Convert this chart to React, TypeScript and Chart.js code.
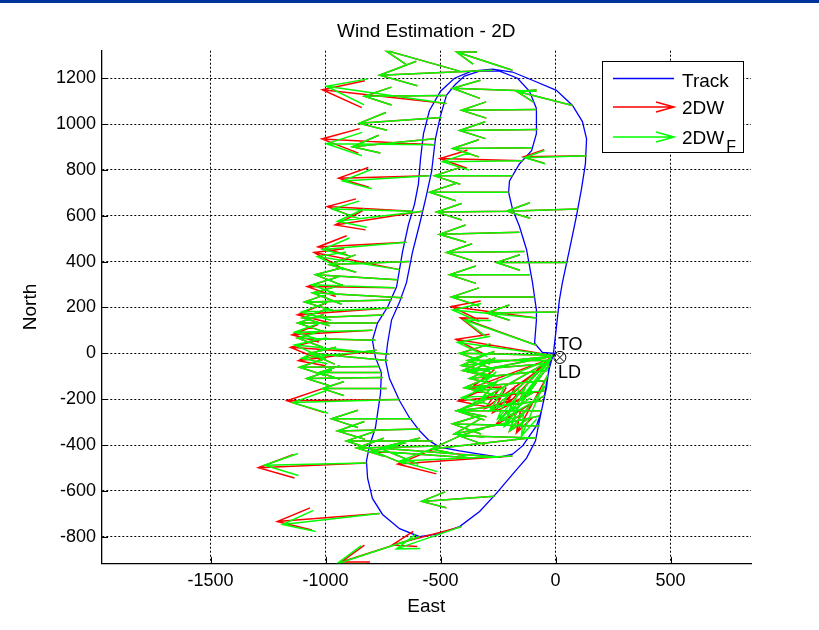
import React, { useEffect, useRef } from "react";
import { Chart, registerables } from "chart.js";

Chart.register(...registerables);

const FONT = '"Liberation Sans", Arial, Helvetica, sans-serif';

// Axis limits
const xMin = -1974;
const xMax = 850;
const yMin = -916;
const yMax = 1320;

// Tick values
const xTickValues = [-1500, -1000, -500, 0, 500];
const yTickValues = [-800, -600, -400, -200, 0, 200, 400, 600, 800, 1000, 1200];

// Flight track (East, North)
const trackE = [0,-30,-57,-91,-83,-83,-100,-126,-157,-187, -204,-200,-157,-104,-83,-83,-113,-165,-243,-330, -396,-439,-474,-500,-522,-539,-565,-591,-622,-648, -678,-713,-730,-739,-722,-678,-635,-591,-548,-504, -417,-330,-243,-187,-143,-113,-83,-61,-39,-26, -9,4,17,30,61,91,113,130,135,117, 74,4,-100,-187,-274,-365,-439,-500,-548,-574, -587,-596,-613,-639,-665,-691,-730,-774,-796,-783, -757,-761,-783,-809,-822,-817,-796,-752,-678,-591, -504,-417,-330,-257,-187,-126,-87,-70,-52,-39, -26,-13,0];
const trackN = [0,2,4,44,145,189,308,453,554,629, 703,752,826,884,958,1068,1143,1200,1231,1231, 1209,1169,1125,1037,936,791,673,563,440,308, 224,145,44,-31,-110,-207,-281,-338,-382,-409, -426,-440,-453,-440,-404,-360,-317,-251,-149,-44, 0,114,233,308,453,598,717,826,936,1011, 1081,1147,1191,1227,1240,1231,1200,1143,1059,958, 848,739,651,563,444,290,202,132,57,-18, -84,-176,-325,-404,-470,-545,-633,-703,-765,-800, -787,-756,-690,-611,-528,-457,-382,-295,-207,-130, -62,-15,0];

// Arrow bases (East, North)
const arrowE = [-417,-274,-187,-474,-474,-83,74,-83,-496,-78, -526,-526,-104,-143,135,-548,-187,-204,-622,-578, -187,96,-157,-648,-678,-135,52,-700,-665,-113, -91,-722,-83,4,-778,-796,-83,-722,-730,-765, -752,-735,-678,-626,-591,-535,-504,-361,-822,-265, -765,-409,-591,-243,-187,-113,-13,-13,-26,-26, -35,-39,-48,-57,-70,-13,-17,-26,-35,-43, -48,-70,-83,-61,-13,-13,-17,-22,-26,-30, -635,-687,-713,-748,-783,-778,-757];
const arrowN = [1231,1235,1235,1090,1125,1143,1081,1064,1029,976, 910,936,897,840,862,774,774,703,620,620, 620,629,528,484,365,444,396,286,242,343, 246,198,154,180,132,101,35,-4,-31,-57, -106,-154,-202,-286,-330,-382,-404,-457,-479,-624, -699,-756,-800,-453,-448,-369,-9,-9,-31,-44, -75,-119,-163,-207,-273,-9,-22,-53,-97,-141, -185,-317,-369,-251,-13,-13,-22,-31,-40,-53, 400,321,233,167,57,13,-84];

// 2DW (raw wind estimate) vector components
const windE = [-326,-491,-243,-540,-357,-365,-243,-326,-357,-339, -490,-357,-343,-360,-275,-395,-339,-343,-370,-380, -330,-309,-348,-385,-372,-339,-309,-380,-391,-348, -361,-400,-370,-304,-343,-350,-330,-430,-339,-348, -330,-278,-490,-348,-357,-374,-361,-435,-470,-317, -445,-300,-340,-522,-500,-426,-420,-404,-357,-378, -339,-357,-375,-370,-370,-260,-200,-130,-135,-157, -215,-378,-335,-370,-396,-361,-350,-309,-280,-191, -348,-357,-378,-352,-339,-340,-270];
const windN = [92,-22,79,60,-4,13,62,-4,-26,-4, 25,-35,-4,10,-5,-10,0,0,20,-60, -4,-9,-9,-20,75,-4,0,5,22,0, 0,-30,50,-4,0,-20,120,30,31,-4, -4,0,-5,0,-9,0,-9,31,-20,-22, -35,-80,-110,40,-35,-48,70,9,0,-31, -35,-31,-45,-44,-79,-250,-210,-154,-250,-198, -130,9,9,0,-40,-70,-130,-176,-200,-264, -13,22,-9,-13,9,-45,0];

// 2DW_F (filtered wind estimate) vector components
const windFE = [-326,-491,-243,-522,-357,-365,-243,-326,-357,-339, -470,-357,-343,-348,-270,-378,-339,-343,-348,-370, -330,-309,-348,-365,-357,-339,-309,-361,-391,-348, -361,-383,-365,-304,-343,-339,-313,-413,-339,-348, -330,-278,-465,-348,-357,-374,-361,-435,-443,-317, -422,-283,-361,-522,-491,-426,-413,-404,-357,-378, -339,-357,-361,-370,-370,-239,-174,-130,-113,-157, -196,-378,-335,-370,-396,-361,-335,-309,-261,-191, -348,-357,-378,-352,-339,-326,-270];
const windFN = [92,-22,79,75,-4,13,62,-4,-26,-4, 4,-35,-4,-4,-9,-22,0,0,9,-44, -4,-9,-9,-31,57,-4,0,13,22,0, 0,-18,35,-4,0,-9,110,40,31,-4, -4,0,-13,0,-9,0,-9,31,-9,-22, -48,-97,-119,40,-22,-48,57,9,0,-31, -35,-31,-31,-44,-79,-277,-229,-154,-264,-198, -110,9,9,0,-40,-70,-141,-176,-211,-264, -13,22,-9,-13,9,-35,0];

// TO / LD marker
const markerE = [19];
const markerN = [-18];

function quiverPoints(xs: number[], ys: number[], us: number[], vs: number[]) {
  const pts: { x: number; y: number | null }[] = [];
  const a = 0.33;
  const b = 0.33;
  for (let i = 0; i < xs.length; i++) {
    const x = xs[i], y = ys[i], u = us[i], v = vs[i];
    const tx = x + u, ty = y + v;
    pts.push({ x, y }, { x: tx, y: ty }, { x: tx, y: null });
    pts.push(
      { x: tx - a * (u + b * v), y: ty - a * (v - b * u) },
      { x: tx, y: ty },
      { x: tx - a * (u - b * v), y: ty - a * (v + b * u) },
      { x: tx, y: null }
    );
  }
  return pts;
}

const extrasPlugin = {
  id: "extras",
  afterDraw(chart: any) {
    const { ctx, chartArea: a, scales } = chart;
    const xs = scales.x, ys = scales.y;
    ctx.save();
    // Title
    ctx.fillStyle = "#000";
    ctx.font = `19px ${FONT}`;
    ctx.textAlign = "center";
    ctx.textBaseline = "alphabetic";
    ctx.fillText("Wind Estimation - 2D", (a.left + a.right) / 2, 36.5);

    // inward tick marks
    ctx.strokeStyle = "#000";
    ctx.lineWidth = 1;
    ctx.beginPath();
    xTickValues.forEach((v) => {
      const px = Math.round(xs.getPixelForValue(v)) + 0.5;
      ctx.moveTo(px, a.bottom);
      ctx.lineTo(px, a.bottom - 6.5);
    });
    yTickValues.forEach((v) => {
      const py = Math.round(ys.getPixelForValue(v)) + 0.5;
      ctx.moveTo(a.left, py);
      ctx.lineTo(a.left + 6.5, py);
    });
    ctx.stroke();

    // TO / LD labels
    const mx = xs.getPixelForValue(markerE[0]);
    const my = ys.getPixelForValue(markerN[0]);
    ctx.font = `18px ${FONT}`;
    ctx.textAlign = "left";
    ctx.fillText("TO", mx - 2, my - 7.5);
    ctx.fillText("LD", mx - 2, my + 20.5);

    // Legend
    const lx = 602, ly = 61, lw = 141, lh = 91;
    ctx.fillStyle = "#fff";
    ctx.fillRect(lx, ly, lw, lh);
    ctx.strokeStyle = "#000";
    ctx.lineWidth = 1;
    ctx.strokeRect(lx + 0.5, ly + 0.5, lw, lh);

    const x0 = 613, x1 = 674;
    ctx.strokeStyle = "#0000ff";
    ctx.lineWidth = 1.3;
    ctx.beginPath();
    ctx.moveTo(x0, 78.5);
    ctx.lineTo(x1, 78.5);
    ctx.stroke();

    const arrow = (yy: number, col: string) => {
      ctx.strokeStyle = col;
      ctx.lineWidth = 1.5;
      ctx.beginPath();
      ctx.moveTo(x0, yy);
      ctx.lineTo(x1, yy);
      ctx.moveTo(x1 - 18, yy - 5);
      ctx.lineTo(x1, yy);
      ctx.lineTo(x1 - 18, yy + 5);
      ctx.stroke();
    };
    arrow(107, "#ff0000");
    arrow(137, "#00ff00");

    ctx.fillStyle = "#000";
    ctx.font = `19px ${FONT}`;
    ctx.textAlign = "left";
    ctx.fillText("Track", 682, 86.5);
    ctx.fillText("2DW", 682, 114.3);
    ctx.fillText("2DW", 682, 144.3);
    const w = ctx.measureText("2DW").width;
    ctx.font = `16px ${FONT}`;
    ctx.fillText("F", 682 + w + 2, 151.5);
    ctx.restore();
  },
};

export default function App() {
  const ref = useRef<HTMLCanvasElement | null>(null);
  useEffect(() => {
    if (!ref.current) return;
    const track = trackE.map((e, i) => ({ x: e, y: trackN[i] }));
    const marker = markerE.map((e, i) => ({ x: e, y: markerN[i] }));
    const tickFont = { family: FONT, size: 18, weight: "normal" as const };
    const titleFont = { family: FONT, size: 19, weight: "normal" as const };
    const chart = new Chart(ref.current, {
      type: "scatter",
      data: {
        datasets: [
          { label: "Track", data: track, showLine: true, borderColor: "#0000ff", backgroundColor: "#0000ff", borderWidth: 1.3, pointRadius: 0, tension: 0, order: 3 },
          { label: "2DW", data: quiverPoints(arrowE, arrowN, windE, windN) as any, showLine: true, borderColor: "#ff0000", backgroundColor: "#ff0000", borderWidth: 1.5, pointRadius: 0, tension: 0, order: 2 },
          { label: "2DW_F", data: quiverPoints(arrowE, arrowN, windFE, windFN) as any, showLine: true, borderColor: "#00ff00", backgroundColor: "#00ff00", borderWidth: 1.5, pointRadius: 0, tension: 0, order: 1 },
          { label: "TO", data: marker, pointStyle: "circle", pointRadius: 6, borderColor: "#000", backgroundColor: "rgba(0,0,0,0)", borderWidth: 1, order: 0 },
          { label: "LD", data: marker, pointStyle: "crossRot", pointRadius: 6, borderColor: "#000", backgroundColor: "rgba(0,0,0,0)", borderWidth: 1, order: 0 },
        ],
      },
      options: {
        responsive: false,
        animation: false,
        events: [],
        layout: { padding: { left: 0, right: 68, top: 50.7, bottom: 0 } },
        plugins: {
          legend: { display: false },
          tooltip: { enabled: false },
          title: { display: false },
        },
        scales: {
          x: {
            type: "linear",
            min: xMin,
            max: xMax,
            afterFit: (s: any) => { s.height = 66.7; },
            afterBuildTicks: (s: any) => { s.ticks = xTickValues.map((v) => ({ value: v })); },
            ticks: {
              autoSkip: false,
              maxRotation: 0,
              color: "#000",
              font: tickFont,
              padding: 6.7,
              callback: (v: any) => String(v),
            },
            grid: { color: "#000", lineWidth: 1, drawTicks: false },
            border: { display: true, color: "#000", width: 1.3, dash: [2, 2] },
            title: { display: true, text: "East", color: "#000", font: titleFont, padding: { top: 0, bottom: 11.9 } },
          },
          y: {
            type: "linear",
            min: yMin,
            max: yMax,
            afterFit: (s: any) => { s.width = 101.5; },
            afterBuildTicks: (s: any) => { s.ticks = yTickValues.map((v) => ({ value: v })); },
            ticks: {
              autoSkip: false,
              color: "#000",
              font: tickFont,
              padding: 5.5,
              callback: (v: any) => String(v),
            },
            grid: { color: "#000", lineWidth: 1, drawTicks: false },
            border: { display: true, color: "#000", width: 1.3, dash: [2, 2] },
            title: { display: true, text: "North", color: "#000", font: titleFont, padding: { top: 19.5, bottom: 0 } },
          },
        },
      },
      plugins: [extrasPlugin],
    });
    return () => chart.destroy();
  }, []);

  return (
    <div style={{ position: "absolute", left: 0, top: 0, width: 819, height: 630, background: "#fff" }}>
      <div style={{ position: "absolute", left: 0, top: 0, width: 819, height: 3, background: "#003399" }} />
      <canvas ref={ref} width={819} height={630} style={{ display: "block" }} />
    </div>
  );
}
